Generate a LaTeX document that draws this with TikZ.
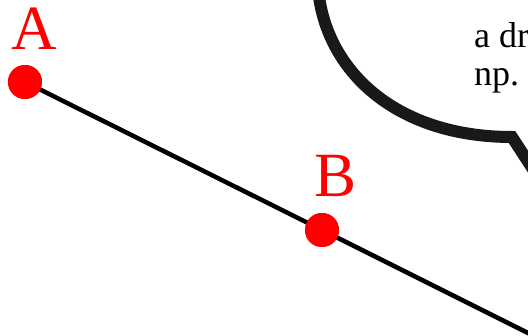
\documentclass[tikz,border=0pt]{standalone}
\usepackage{fontspec}
\setmainfont{Liberation Serif}
\usetikzlibrary{positioning}

\begin{document}
\begin{tikzpicture}[x=1pt,y=-1pt,
  point/.style={circle,fill=red,inner sep=0pt,minimum size=34pt},
  ptlabel/.style={text=red,font=\fontsize{63}{63}\selectfont,inner sep=0pt,anchor=base},
  bubbletext/.style={font=\fontsize{36}{36}\selectfont,inner sep=0pt,anchor=base west}]
\useasboundingbox (0,0) rectangle (528,336);
\clip (0,0) rectangle (528,336);
% speech bubble
\draw[line width=12pt,black!90] (318,-12) .. controls (325,70) and (395,137) .. (512,137) -- (540,180);
\node[bubbletext] (line1) at (474,48) {a dr};
\node[bubbletext] (line2) at (474,86) {np.};
% the line through A and B
\node[point] (A) at (25,82) {};
\node[point] (B) at (322,230) {};
\coordinate (end) at (548,343);
\draw[line width=4.5pt] (A.center) -- (B.center) -- (end);
\node[point] at (A) {};
\node[point] at (B) {};
\node[ptlabel] (labelA) at (34,50) {A};
\node[ptlabel] (labelB) at (336,197) {B};
\end{tikzpicture}
\end{document}
